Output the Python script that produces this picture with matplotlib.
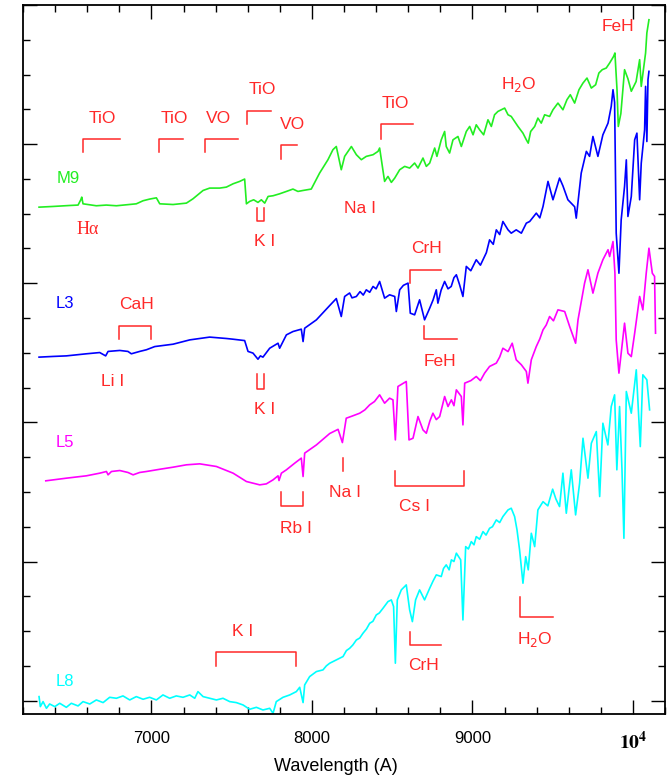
import numpy as np
import matplotlib
matplotlib.use("Agg")
import matplotlib.pyplot as plt
from matplotlib.ticker import MultipleLocator, FixedLocator, FixedFormatter

plt.rcParams['font.family'] = ['Liberation Sans', 'DejaVu Sans']

# Spectra (wavelength in Angstrom, offset flux in arbitrary units)
m9 = [(6300, 3.547), (6387, 3.552), (6491, 3.559), (6543, 3.562), (6560, 3.600), (6566, 3.619),
      (6574, 3.571), (6657, 3.557), (6719, 3.562), (6782, 3.557), (6906, 3.571), (6948, 3.593),
      (6989, 3.605), (7031, 3.614), (7052, 3.571), (7135, 3.566), (7218, 3.576), (7259, 3.607),
      (7322, 3.667), (7363, 3.684), (7425, 3.684), (7467, 3.691), (7509, 3.715), (7550, 3.732),
      (7581, 3.749), (7592, 3.571), (7612, 3.588), (7637, 3.600), (7664, 3.581), (7685, 3.600),
      (7706, 3.576), (7727, 3.624), (7758, 3.629), (7799, 3.643), (7841, 3.660), (7882, 3.677),
      (7913, 3.660), (7945, 3.667), (7996, 3.677), (8048, 3.792), (8100, 3.888), (8131, 3.960),
      (8152, 3.983), (8183, 3.816), (8204, 3.912), (8246, 3.983), (8277, 3.924), (8308, 3.888),
      (8339, 3.912), (8381, 3.924), (8412, 3.948), (8422, 3.972), (8453, 3.732), (8474, 3.768),
      (8495, 3.725), (8516, 3.756), (8547, 3.816), (8578, 3.840), (8609, 3.828), (8640, 3.864),
      (8661, 3.828), (8692, 3.900), (8713, 3.840), (8734, 3.864), (8765, 3.972), (8779, 3.912),
      (8806, 4.031), (8827, 4.091), (8837, 3.983), (8858, 3.936), (8879, 4.031), (8910, 4.055),
      (8931, 3.983), (8962, 4.091), (8983, 4.127), (9004, 4.067), (9024, 4.139), (9045, 4.103),
      (9070, 4.067), (9097, 4.175), (9118, 4.127), (9138, 4.211), (9159, 4.235), (9180, 4.247),
      (9201, 4.259), (9222, 4.211), (9242, 4.199), (9263, 4.163), (9284, 4.127), (9315, 4.079),
      (9336, 4.031), (9348, 4.007), (9363, 4.091), (9388, 4.127), (9408, 4.187), (9429, 4.151),
      (9450, 4.211), (9481, 4.199), (9502, 4.247), (9533, 4.295), (9564, 4.247), (9589, 4.319),
      (9610, 4.355), (9637, 4.295), (9664, 4.391), (9689, 4.439), (9714, 4.475), (9741, 4.403),
      (9768, 4.427), (9788, 4.511), (9809, 4.535), (9834, 4.547), (9855, 4.583), (9880, 4.631),
      (9888, 4.655), (9901, 4.391), (9909, 4.127), (9925, 4.220), (9948, 4.535), (9969, 4.470),
      (9990, 4.380), (10020, 4.450), (10042, 4.607), (10052, 4.415), (10079, 4.655), (10087, 4.799),
      (10100, 4.894)]

l3 = [(6300, 2.469), (6387, 2.474), (6470, 2.478), (6595, 2.493), (6678, 2.502), (6715, 2.478),
      (6730, 2.510), (6803, 2.517), (6854, 2.510), (6875, 2.493), (6927, 2.510), (6969, 2.522),
      (7021, 2.545), (7135, 2.562), (7239, 2.593), (7363, 2.613), (7467, 2.603), (7508, 2.598),
      (7581, 2.588), (7602, 2.510), (7633, 2.498), (7664, 2.454), (7679, 2.478), (7695, 2.469),
      (7737, 2.533), (7789, 2.569), (7799, 2.533), (7841, 2.629), (7882, 2.653), (7934, 2.670),
      (7945, 2.581), (7955, 2.677), (8028, 2.737), (8111, 2.840), (8152, 2.890), (8183, 2.761),
      (8204, 2.905), (8235, 2.930), (8250, 2.895), (8277, 2.905), (8300, 2.940), (8320, 2.915),
      (8339, 2.953), (8360, 2.935), (8381, 2.977), (8400, 2.960), (8422, 3.013), (8453, 2.893),
      (8484, 2.917), (8516, 2.905), (8526, 2.797), (8547, 2.953), (8570, 2.985), (8599, 3.001),
      (8613, 2.785), (8640, 2.773), (8671, 2.881), (8702, 2.737), (8734, 2.821), (8755, 2.880),
      (8775, 2.953), (8785, 2.857), (8805, 2.950), (8827, 3.013), (8848, 2.960), (8868, 2.977),
      (8885, 3.040), (8900, 3.061), (8920, 2.990), (8941, 2.905), (8962, 3.121), (8990, 3.090),
      (9024, 3.169), (9050, 3.130), (9087, 3.220), (9107, 3.312), (9130, 3.280), (9149, 3.384),
      (9170, 3.350), (9190, 3.444), (9222, 3.384), (9242, 3.360), (9273, 3.384), (9305, 3.360),
      (9336, 3.432), (9357, 3.444), (9398, 3.504), (9420, 3.470), (9440, 3.552), (9471, 3.732),
      (9502, 3.600), (9543, 3.756), (9564, 3.700), (9595, 3.600), (9637, 3.550), (9647, 3.468),
      (9678, 3.792), (9710, 3.948), (9730, 3.912), (9751, 4.055), (9782, 3.912), (9813, 4.067),
      (9845, 4.151), (9865, 4.271), (9876, 4.391), (9886, 4.300), (9896, 3.360), (9913, 3.072),
      (9927, 3.456), (9948, 3.696), (9959, 3.887), (9969, 3.480), (9990, 3.624), (10011, 4.031),
      (10025, 4.079), (10042, 3.600), (10052, 3.863), (10073, 4.103), (10079, 4.415), (10087, 4.019),
      (10094, 4.463), (10100, 4.523)]

l5 = [(6342, 1.580), (6470, 1.599), (6595, 1.616), (6678, 1.635), (6720, 1.647), (6730, 1.623),
      (6751, 1.647), (6803, 1.654), (6854, 1.640), (6886, 1.623), (6927, 1.640), (6969, 1.647),
      (7052, 1.663), (7135, 1.678), (7218, 1.695), (7301, 1.702), (7405, 1.683), (7509, 1.635),
      (7592, 1.575), (7675, 1.551), (7716, 1.558), (7758, 1.587), (7789, 1.616), (7795, 1.582),
      (7810, 1.635), (7841, 1.659), (7893, 1.707), (7934, 1.743), (7945, 1.611), (7955, 1.779),
      (8028, 1.838), (8111, 1.920), (8163, 1.950), (8190, 1.855), (8214, 2.030), (8250, 2.045),
      (8298, 2.066), (8330, 2.090), (8360, 2.126), (8390, 2.150), (8422, 2.198), (8453, 2.138),
      (8484, 2.174), (8505, 2.162), (8520, 1.874), (8536, 2.258), (8588, 2.294), (8605, 1.874),
      (8630, 1.886), (8661, 2.042), (8692, 1.946), (8713, 1.922), (8735, 2.010), (8754, 2.066),
      (8775, 2.020), (8796, 2.042), (8827, 2.186), (8848, 2.114), (8869, 2.162), (8885, 2.120),
      (8900, 2.234), (8931, 2.186), (8941, 1.982), (8952, 2.282), (8990, 2.300), (9024, 2.330),
      (9050, 2.300), (9076, 2.354), (9107, 2.402), (9149, 2.426), (9170, 2.470), (9190, 2.533),
      (9222, 2.509), (9248, 2.569), (9273, 2.450), (9305, 2.414), (9336, 2.366), (9346, 2.282),
      (9367, 2.450), (9398, 2.545), (9420, 2.600), (9440, 2.665), (9460, 2.700), (9481, 2.761),
      (9505, 2.730), (9533, 2.809), (9575, 2.797), (9606, 2.689), (9643, 2.569), (9658, 2.737),
      (9699, 3.001), (9720, 3.097), (9751, 2.929), (9782, 3.073), (9813, 3.169), (9845, 3.241),
      (9855, 3.192), (9876, 3.300), (9888, 3.073), (9896, 2.593), (9913, 2.354), (9927, 2.497),
      (9948, 2.713), (9969, 2.497), (9990, 2.473), (10011, 2.641), (10042, 2.905), (10062, 2.809),
      (10083, 3.072), (10100, 3.252), (10121, 3.072), (10135, 3.049), (10141, 2.641)]

l8 = [(6300, 0.029), (6308, -0.043), (6325, -0.007), (6346, -0.055), (6366, -0.024), (6398, -0.043),
      (6429, -0.019), (6470, -0.048), (6501, -0.019), (6543, -0.038), (6574, -0.007), (6616, -0.024),
      (6657, 0.005), (6699, -0.014), (6740, 0.024), (6782, 0.017), (6823, 0.034), (6865, 0.005),
      (6906, 0.029), (6948, 0.010), (6989, 0.024), (7031, 0.005), (7072, 0.041), (7114, 0.017),
      (7155, 0.034), (7197, 0.024), (7239, 0.041), (7270, 0.017), (7290, 0.065), (7322, 0.029),
      (7363, 0.017), (7405, 0.005), (7446, 0.017), (7488, -0.007), (7529, -0.014), (7571, -0.031),
      (7612, -0.062), (7654, -0.048), (7695, -0.067), (7737, -0.055), (7758, -0.091), (7778, -0.007),
      (7820, 0.024), (7862, 0.041), (7903, 0.065), (7924, 0.096), (7945, -0.014), (7955, 0.113),
      (7986, 0.173), (8028, 0.209), (8069, 0.221), (8090, 0.250), (8111, 0.269), (8152, 0.293),
      (8194, 0.317), (8215, 0.360), (8235, 0.376), (8255, 0.400), (8277, 0.436), (8298, 0.450),
      (8318, 0.484), (8340, 0.515), (8360, 0.556), (8380, 0.570), (8401, 0.616), (8420, 0.630),
      (8443, 0.664), (8474, 0.712), (8495, 0.724), (8509, 0.676), (8520, 0.269), (8532, 0.724),
      (8557, 0.796), (8588, 0.832), (8609, 0.652), (8626, 0.568), (8646, 0.724), (8671, 0.796),
      (8702, 0.724), (8734, 0.808), (8755, 0.860), (8775, 0.904), (8806, 0.892), (8820, 0.950),
      (8837, 0.976), (8855, 0.940), (8869, 1.012), (8885, 1.000), (8900, 1.060), (8927, 1.012),
      (8941, 0.580), (8958, 1.107), (8975, 1.090), (8993, 1.143), (9010, 1.120), (9024, 1.179),
      (9045, 1.160), (9066, 1.215), (9085, 1.190), (9107, 1.239), (9125, 1.250), (9149, 1.299),
      (9170, 1.280), (9190, 1.323), (9222, 1.371), (9242, 1.383), (9263, 1.323), (9278, 1.227),
      (9294, 1.083), (9315, 0.844), (9332, 1.035), (9348, 0.940), (9367, 1.203), (9388, 1.107),
      (9408, 1.371), (9440, 1.430), (9470, 1.400), (9500, 1.520), (9520, 1.450), (9543, 1.395),
      (9564, 1.635), (9585, 1.347), (9616, 1.659), (9643, 1.335), (9668, 1.563), (9689, 1.886),
      (9720, 1.599), (9741, 1.850), (9772, 1.934), (9793, 1.467), (9813, 1.994), (9844, 1.838),
      (9865, 2.114), (9886, 2.198), (9900, 1.659), (9917, 2.114), (9932, 1.659), (9944, 1.167),
      (9959, 2.222), (9990, 2.066), (10021, 2.378), (10046, 1.826), (10062, 2.342), (10087, 2.306),
      (10104, 2.090)]

spectra = [m9, l3, l5, l8]
spec_names = ['M9', 'L3', 'L5', 'L8']
spec_colors = ['#22ee22', '#0000ff', '#ff00ff', '#00ffff']
name_pos = [(6480, 3.756), (6464, 2.852), (6464, 1.855), (6464, 0.137)]

# feature markers (band / line extents) and labels
markers = [
    ([6574, 6574, 6802], [3.940, 4.036, 4.036]),
    ([7047, 7047, 7197], [3.940, 4.036, 4.036]),
    ([7336, 7336, 7540], [3.940, 4.036, 4.036]),
    ([7596, 7596, 7747], [4.146, 4.240, 4.240]),
    ([7805, 7805, 7907], [3.892, 3.995, 3.995]),
    ([8428, 8428, 8630], [4.036, 4.144, 4.144]),
    ([7660, 7660, 7702, 7702], [3.540, 3.444, 3.444, 3.540]),
    ([6798, 6798, 7000, 7000], [2.598, 2.694, 2.694, 2.598]),
    ([7660, 7660, 7702, 7702], [2.349, 2.239, 2.239, 2.349]),
    ([8609, 8609, 8802], [3.001, 3.097, 3.097]),
    ([8696, 8696, 8904], [2.694, 2.598, 2.598]),
    ([7805, 7805, 7945, 7945], [1.503, 1.400, 1.400, 1.503]),
    ([8194, 8194], [1.743, 1.647]),
    ([8520, 8520, 8945, 8945], [1.654, 1.544, 1.544, 1.654]),
    ([7401, 7401, 7903, 7903], [0.252, 0.348, 0.348, 0.252]),
    ([8609, 8609, 8802], [0.496, 0.400, 0.400]),
    ([9298, 9298, 9502], [0.748, 0.599, 0.599]),
]
labels = [
    ('TiO', 6692, 4.187), ('TiO', 7145, 4.187), ('VO', 7415, 4.187), ('TiO', 7689, 4.391),
    ('VO', 7878, 4.144), ('TiO', 8520, 4.295), ('H$_2$O', 9290, 4.427), ('FeH', 9907, 4.846),
    ('K I', 7706, 3.300), ('Na I', 8298, 3.540), ('CaH', 6910, 2.845), ('Li I', 6757, 2.294),
    ('K I', 7706, 2.095), ('CrH', 8713, 3.253), ('FeH', 8796, 2.438), ('Rb I', 7900, 1.240),
    ('Na I', 8204, 1.496), ('Cs I', 8640, 1.395), ('K I', 7570, 0.496), ('CrH', 8696, 0.252),
    ('H$_2$O', 9392, 0.436),
]
red = '#ff2828'

fig = plt.figure(figsize=(6.7, 7.77), dpi=100)
ax = fig.add_axes([23 / 670, 1 - 714 / 777, 642 / 670, 709 / 777])

for spec, name, col, (nx, ny) in zip(spectra, spec_names, spec_colors, name_pos):
    w, f = np.array(spec).T
    ax.plot(w, f, color=col, lw=1.2)
    ax.text(nx, ny, name, color=col, fontsize=12, ha='center', va='center')

for mx, my in markers:
    ax.plot(mx, my, color=red, lw=1.1)
for txt, tx, ty in labels:
    ax.text(tx, ty, txt, color=red, fontsize=12.5, ha='center', va='center')
ax.text(6605, 3.384, 'H\u03b1', color=red, fontsize=13, ha='center', va='center',
        family=['Liberation Serif', 'DejaVu Serif'])

ax.set_xlim(6200, 10200)
ax.set_ylim(-0.096, 5.0)
ax.xaxis.set_major_locator(FixedLocator([7000, 8000, 9000, 10000]))
ax.xaxis.set_major_formatter(FixedFormatter(['7000', '8000', '9000', r'$\mathbf{10^4}$']))
ax.xaxis.set_minor_locator(MultipleLocator(200))
ax.yaxis.set_major_locator(MultipleLocator(1))
ax.yaxis.set_minor_locator(MultipleLocator(0.25))
ax.tick_params(which='both', direction='in', top=True, right=True, width=1.0)
ax.tick_params(which='major', length=10, pad=12, labelsize=12)
ax.tick_params(which='minor', length=5)
ax.tick_params(axis='y', labelleft=False)
for s in ax.spines.values():
    s.set_linewidth(1.3)
fig.canvas.draw()
lab = ax.get_xticklabels()[-1]
lab.set_math_fontfamily('stix')
lab.set_fontsize(14)

ax.set_xlabel('Wavelength (A)', fontsize=13)
ax.xaxis.set_label_coords(0.4875, -0.062)

fig.savefig('out.png', dpi=100)
